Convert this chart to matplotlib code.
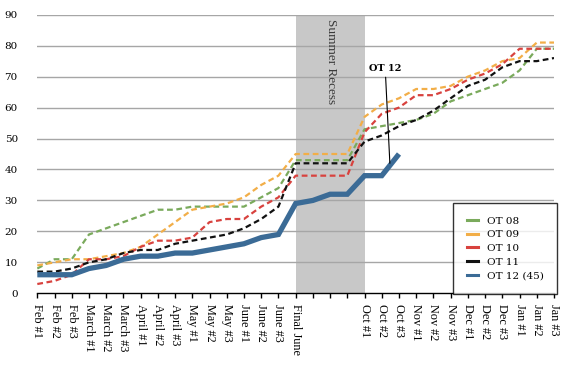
import matplotlib
matplotlib.use('Agg')
import matplotlib.pyplot as plt
from matplotlib.lines import Line2D

categories = ['Feb #1', 'Feb #2', 'Feb #3', 'March #1', 'March #2', 'March #3',
              'April #1', 'April #2', 'April #3', 'May #1', 'May #2', 'May #3',
              'June #1', 'June #2', 'June #3', 'Final June', '', '', '',
              'Oct #1', 'Oct #2', 'Oct #3', 'Nov #1', 'Nov #2', 'Nov #3',
              'Dec #1', 'Dec #2', 'Dec #3', 'Jan #1', 'Jan #2', 'Jan #3']

ot08 = [8, 11, 11, 19, 21, 23, 25, 27, 27, 28, 28, 28, 28, 31, 34, 43, 43, 43, 43,
        53, 54, 55, 56, 58, 62, 64, 66, 68, 72, 79, 79]
ot09 = [9, 10, 11, 11, 12, 13, 15, 19, 23, 27, 28, 29, 31, 35, 38, 45, 45, 45, 45,
        57, 61, 63, 66, 66, 67, 70, 72, 75, 76, 81, 81]
ot10 = [3, 4, 6, 11, 11, 12, 15, 17, 17, 18, 23, 24, 24, 28, 31, 38, 38, 38, 38,
        52, 58, 60, 64, 64, 66, 69, 71, 74, 79, 79, 79]
ot11 = [7, 7, 8, 10, 11, 13, 14, 14, 16, 17, 18, 19, 21, 24, 28, 42, 42, 42, 42,
        49, 51, 54, 56, 59, 63, 67, 69, 73, 75, 75, 76]
ot12 = [6, 6, 6, 8, 9, 11, 12, 12, 13, 13, 14, 15, 16, 18, 19, 29, 30, 32, 32,
        38, 38, 45]

series_labels = ['OT 08', 'OT 09', 'OT 10', 'OT 11', 'OT 12 (45)']
colors = ['#7aaa5c', '#f2ae48', '#d8423e', '#111111', '#3b6b96']
yticks = [0, 10, 20, 30, 40, 50, 60, 70, 80, 90]
recess_start, recess_end = 'Final June', 'Oct #1'

fig = plt.figure(figsize=(5.8, 3.65), dpi=100)
ax = fig.add_axes([37.3 / 580, 71.7 / 365, (554 - 37.3) / 580, (293.3 - 14.7) / 365])

x = list(range(len(categories)))
ax.axvspan(categories.index(recess_start), categories.index(recess_end),
           color='#c8c8c8', zorder=0, lw=0)
for yv in yticks[1:]:
    ax.axhline(yv, color='#a6a6a6', lw=1.0, zorder=1)

dash = (0, (2.6, 1.6))
for vals, c in zip([ot08, ot09, ot10, ot11], colors[:4]):
    ax.plot(x[:len(vals)], vals, color=c, lw=1.6, linestyle=dash, zorder=3)
ax.plot(x[:len(ot12)], ot12, color=colors[4], lw=3.8, solid_capstyle='butt',
        solid_joinstyle='miter', zorder=4)

ax.text((categories.index(recess_start) + categories.index(recess_end)) / 2 + 0.05, 88.5,
        'Summer Recess', rotation=270, ha='center', va='top',
        fontfamily='Liberation Serif', fontsize=9.5, color='#3a3a3a', zorder=2)

ax.annotate('OT 12', xy=(20.47, 42), xytext=(20.2, 72.6), ha='center', va='center',
            fontfamily='DejaVu Serif', fontweight='bold', fontsize=7,
            arrowprops=dict(arrowstyle='-', color='black', lw=0.8,
                            shrinkA=1, shrinkB=0), zorder=5)

ax.set_xlim(0, len(categories) - 1)
ax.set_ylim(0, 90)
ax.set_xticks(x)
ax.set_xticklabels(categories, rotation=270, ha='center', va='top',
                   fontfamily='Liberation Serif', fontsize=8.8)
ax.set_yticks(yticks)
ax.set_yticklabels([str(v) for v in yticks], fontfamily='DejaVu Serif', fontsize=7.5)
ax.tick_params(axis='y', length=0, pad=14)
ax.tick_params(axis='x', length=3.5, width=1, direction='out', pad=4, color='black')
for s in ['left', 'right', 'top']:
    ax.spines[s].set_visible(False)
ax.spines['bottom'].set_color('black')
ax.spines['bottom'].set_linewidth(1)
ax.spines['bottom'].set_zorder(6)

handles = [Line2D([0], [0], color=c, lw=2.2, linestyle='-') for c in colors]
leg = ax.legend(handles, series_labels, loc='lower right',
                bbox_to_anchor=(557 / 580, 71 / 365), bbox_transform=fig.transFigure,
                borderaxespad=0, fancybox=False, frameon=True, handlelength=1.05,
                handletextpad=0.85, labelspacing=0.42, borderpad=1.3,
                prop={'family': 'DejaVu Serif', 'size': 7.5})
leg.get_frame().set_edgecolor('black')
leg.get_frame().set_linewidth(1)
leg.set_zorder(7)

fig.savefig('out.png', dpi=100)
